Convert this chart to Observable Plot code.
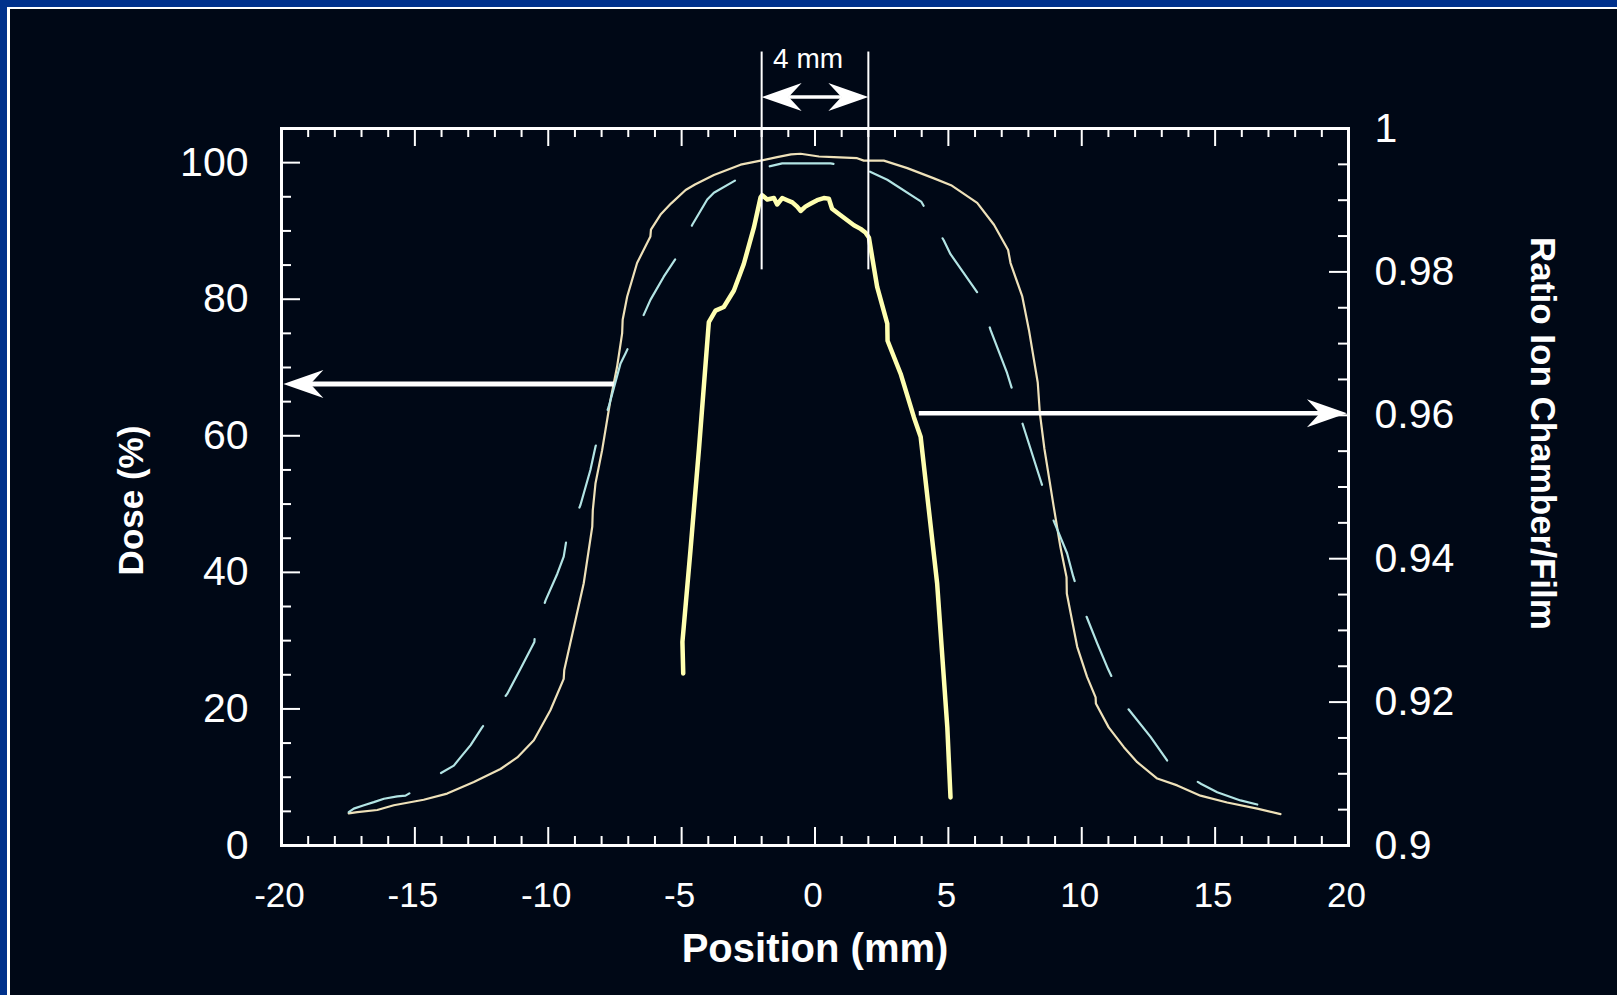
<!DOCTYPE html>
<html>
<head>
<meta charset="utf-8">
<script src="https://cdn.jsdelivr.net/npm/d3@7"></script>
<script src="https://cdn.jsdelivr.net/npm/@observablehq/plot@0.6"></script>
<style>
  html, body { margin: 0; padding: 0; background: #000816; }
  #wrap { position: relative; width: 1617px; height: 995px; overflow: hidden; background: #000816; }
  #border { position: absolute; left: 0; top: 0; width: 1617px; height: 995px; box-sizing: border-box;
            border-left: 7px solid #00318c; border-top: 7px solid #00318c; pointer-events: none; }
  #border2 { position: absolute; left: 7px; top: 7px; width: 1610px; height: 988px; box-sizing: border-box;
             border-left: 3px solid #ffffff; border-top: 2px solid #ffffff; pointer-events: none; }
</style>
</head>
<body>
<div id="wrap"><div id="chart"></div><div id="border"></div><div id="border2"></div></div>
<script>
// ---- Film dose profile (%), position in mm ----
const filmPos  = [-17.48,-17.16,-16.41,-15.79,-14.67,-13.79,-12.79,-11.79,-11.16,-10.54,-9.92,-9.42,-9.40,-8.98,-8.67,-8.35,-8.33,-8.23,-7.98,-7.67,-7.42,-7.23,-7.21,-7.04,-6.67,-6.17,-6.15,-5.79,-5.40,-4.85,-4.50,-3.79,-2.79,-2.04,-1.42,-0.90,-0.54,0.15,0.71,1.58,1.83,2.58,3.46,4.46,5.10,6.08,6.71,7.24,7.33,7.77,8.02,8.35,8.43,8.60,8.95,9.20,9.43,9.44,9.83,10.20,10.52,10.53,11.01,11.58,12.08,12.83,13.58,14.45,15.45,16.58,17.45];
const filmDose = [4.7,4.9,5.2,5.9,6.7,7.6,9.3,11.2,12.9,15.4,19.8,24.4,25.7,33.0,38.4,46.7,49.1,53.0,57.9,65.2,70.1,75.0,77.0,80.4,85.3,89.2,90.2,92.4,94.0,96.0,96.8,98.2,99.7,100.3,100.8,101.2,101.3,100.9,100.8,100.65,100.3,100.3,99.2,97.7,96.7,94.1,90.9,87.2,85.3,80.4,75.5,67.8,63.3,58.1,49.6,43.7,39.3,36.9,29.1,24.7,21.7,20.8,17.3,14.4,12.2,9.8,8.8,7.3,6.3,5.4,4.6];

// ---- Ion chamber dose profile (%), dashed ----
const chamberPos  = [-17.48,-17.29,-16.91,-16.54,-16.16,-15.66,-15.35,-14.70,-14.16,-13.54,-13.29,-12.91,-12.48,-11.54,-11.04,-10.52,-10.50,-10.10,-9.66,-9.42,-9.32,-8.79,-8.42,-8.23,-7.73,-7.29,-7.10,-6.48,-6.17,-5.67,-5.23,-4.60,-4.04,-3.79,-2.94,-1.67,-1.23,0.58,1.83,2.71,3.98,4.83,5.08,6.17,6.58,7.20,7.39,7.77,8.48,8.89,9.45,9.68,10.10,10.58,10.99,11.64,12.58,13.28,14.48,15.08,15.95,16.58];
const chamberDose = [4.9,5.4,5.9,6.35,6.85,7.2,7.3,8.8,10.3,11.7,12.9,14.7,17.3,22.2,25.9,29.8,31.0,35.9,39.8,42.3,44.7,49.9,55.0,58.4,64.3,70.6,72.1,77.2,79.9,83.3,85.9,90.9,94.6,95.6,97.5,99.5,99.9,99.9,99.1,97.5,94.3,88.6,86.6,80.5,75.5,69.2,66.8,61.9,53.2,48.1,42.8,39.4,34.3,29.6,25.8,20.5,15.9,12.0,9.0,7.8,6.6,6.0];
const chamberDashCount = 17;     // number of visible dashes along the profile
const chamberDashRatio = 0.63;   // dash share of each dash+gap period

// ---- Ratio ion chamber / film (right axis) ----
const ratioPos   = [-4.94,-4.97,-4.67,-4.35,-3.98,-3.73,-3.42,-3.04,-2.67,-2.29,-2.04,-1.98,-1.79,-1.54,-1.42,-1.23,-1.04,-0.85,-0.67,-0.54,-0.36,-0.17,0.08,0.33,0.52,0.64,0.96,1.21,1.46,1.71,1.89,2.02,2.33,2.71,2.72,3.21,3.71,3.96,4.58,4.96,5.08];
const ratioValue = [0.9240,0.9284,0.9411,0.9553,0.9730,0.9746,0.9751,0.9774,0.9811,0.9862,0.9904,0.9907,0.9901,0.9903,0.9894,0.9903,0.9900,0.9897,0.9891,0.9885,0.9891,0.9895,0.9900,0.9903,0.9902,0.9888,0.9879,0.9872,0.9865,0.9860,0.9855,0.9848,0.9779,0.9728,0.9704,0.9658,0.9597,0.9570,0.9365,0.9165,0.9067];

// ---- Axes / ticks ----
const xTicks      = [-20,-15,-10,-5,0,5,10,15,20];
const xMinorTicks = d3.range(-20, 21, 1);
const doseTicks   = [0,20,40,60,80,100];
const doseMinor   = d3.range(0, 106, 5);
const ratioTicks  = [0.9,0.92,0.94,0.96,0.98,1];
const ratioMinor  = d3.range(0, 21).map(i => 0.9 + i * 0.005);

// ---- Annotations ----
const bracketX = [-2, 2];           // the 4 mm window
const bracketY = [84.3, 116.2];      // dose units (extends above frame)
const bracketArrowY = 109.6;
const bracketLabel = "4 mm";
const leftArrow  = {from: -7.54, to: -19.93, dose: 67.6};
const rightArrow = {from: 3.89, to: 19.94, ratio: 0.9603};

const yR = r => (r - 0.9) / 0.1 * 105;  // ratio axis mapped onto dose scale

const film    = filmPos.map((x, i) => ({x, y: filmDose[i]}));
const chamber = chamberPos.map((x, i) => ({x, y: chamberDose[i]}));
const ratio   = ratioPos.map((x, i) => ({x, y: yR(ratioValue[i])}));

const W = 1617, H = 995, mT = 128, mR = 269, mB = 150, mL = 281;
const pW = W - mL - mR, pH = H - mT - mB;

const headRight = {draw(ctx) { ctx.moveTo(0,0); ctx.lineTo(-40,-14); ctx.lineTo(-27,0); ctx.lineTo(-40,14); ctx.closePath(); }};
const headLeft  = {draw(ctx) { ctx.moveTo(0,0); ctx.lineTo(40,-14); ctx.lineTo(27,0); ctx.lineTo(40,14); ctx.closePath(); }};

const white = "#ffffff";
const chamberColor = "#b2e4e4";
const minorX = xMinorTicks.filter(d => d % 5 !== 0);
const minorD = doseMinor.filter(d => d % 20 !== 0);
const minorR = ratioMinor.filter((d, i) => i % 4 !== 0);

const chart = Plot.plot({
  width: W, height: H,
  marginTop: mT, marginRight: mR, marginBottom: mB, marginLeft: mL,
  style: {background: "#000816", color: white, fontFamily: "'Liberation Sans', Arial, sans-serif", overflow: "visible"},
  x: {domain: [-20, 20]},
  y: {domain: [0, 105]},
  marks: [
    // inward ticks
    Plot.tickX(minorX, {x: d => d, stroke: white, strokeWidth: 2, insetBottom: pH - 9}),
    Plot.tickX(xTicks, {x: d => d, stroke: white, strokeWidth: 2, insetBottom: pH - 18}),
    Plot.tickX(minorX, {x: d => d, stroke: white, strokeWidth: 2, insetTop: pH - 9}),
    Plot.tickX(xTicks, {x: d => d, stroke: white, strokeWidth: 2, insetTop: pH - 18}),
    Plot.tickY(minorD, {y: d => d, stroke: white, strokeWidth: 2, insetRight: pW - 10}),
    Plot.tickY(doseTicks, {y: d => d, stroke: white, strokeWidth: 2, insetRight: pW - 19}),
    Plot.tickY(minorR.map(yR), {y: d => d, stroke: white, strokeWidth: 2, insetLeft: pW - 10}),
    Plot.tickY(ratioTicks.map(yR), {y: d => d, stroke: white, strokeWidth: 2, insetLeft: pW - 19}),
    Plot.frame({stroke: white, strokeWidth: 3}),
    // tick labels
    Plot.axisX(xTicks, {anchor: "bottom", tickSize: 0, tickPadding: 37, dx: -2, fontSize: 35, label: null, tickFormat: d => String(d)}),
    Plot.axisY(doseTicks, {anchor: "left", tickSize: 0, tickPadding: 33, fontSize: 41, label: null, tickFormat: d => String(d)}),
    Plot.axisY(ratioTicks.map(yR), {anchor: "right", tickSize: 0, tickPadding: 26, fontSize: 41, label: null,
      tickFormat: d => String(+(0.9 + d / 105 * 0.1).toFixed(3))}),
    // curves
    Plot.line(film, {x: "x", y: "y", stroke: "#eee1b9", strokeWidth: 2.2}),
    Plot.line(chamber, {x: "x", y: "y", stroke: chamberColor, strokeWidth: 2.2, strokeDasharray: "63,37"}),
    Plot.line(ratio, {x: "x", y: "y", stroke: "#ffffb0", strokeWidth: 4.5, strokeLinecap: "round", strokeLinejoin: "round"}),
    // 4 mm window
    Plot.ruleX(bracketX, {x: d => d, y1: bracketY[0], y2: bracketY[1], stroke: white, strokeWidth: 2}),
    Plot.link([{x1: bracketX[0] + 1.0, x2: bracketX[1] - 1.0, y: bracketArrowY}], {x1: "x1", x2: "x2", y1: "y", y2: "y", stroke: white, strokeWidth: 3.5}),
    Plot.dot([{x: bracketX[0], y: bracketArrowY}], {x: "x", y: "y", symbol: headLeft, fill: white, stroke: null}),
    Plot.dot([{x: bracketX[1], y: bracketArrowY}], {x: "x", y: "y", symbol: headRight, fill: white, stroke: null}),
    Plot.text([bracketLabel], {x: -0.26, y: 115.2, text: d => d, fontSize: 28, fill: white, textAnchor: "middle", lineAnchor: "middle"}),
    // pointer arrows
    Plot.link([leftArrow], {x1: "from", x2: d => d.to + 0.9, y1: "dose", y2: "dose", stroke: white, strokeWidth: 5}),
    Plot.dot([leftArrow], {x: "to", y: "dose", symbol: headLeft, fill: white, stroke: null}),
    Plot.link([rightArrow], {x1: "from", x2: d => d.to - 0.9, y1: d => yR(d.ratio), y2: d => yR(d.ratio), stroke: white, strokeWidth: 4.5}),
    Plot.dot([rightArrow], {x: "to", y: d => yR(d.ratio), symbol: headRight, fill: white, stroke: null}),
    // axis titles
    Plot.text(["Position (mm)"], {frameAnchor: "bottom", dy: 104, text: d => d, fontSize: 40, fontWeight: "bold", fill: white, textAnchor: "middle", lineAnchor: "middle"}),
    Plot.text(["Dose (%)"], {frameAnchor: "left", dx: -150, dy: 13.5, rotate: -90, text: d => d, fontSize: 35, fontWeight: "bold", fill: white, textAnchor: "middle", lineAnchor: "middle"}),
    Plot.text(["Ratio Ion Chamber/Film"], {frameAnchor: "right", dx: 194, dy: -53.5, rotate: 90, text: d => d, fontSize: 35, fontWeight: "bold", fill: white, textAnchor: "middle", lineAnchor: "middle"})
  ]
});
document.getElementById("chart").appendChild(chart);

// Fit the dash pattern so the dashes start and end with the drawn profile
const dashedPath = chart.querySelector(`g[stroke="${chamberColor}"] path`);
if (dashedPath && dashedPath.getTotalLength) {
  const L = dashedPath.getTotalLength();
  const period = L / (chamberDashCount - 1 + chamberDashRatio);
  const dash = period * chamberDashRatio, gap = period - dash;
  dashedPath.setAttribute("stroke-dasharray", `${dash.toFixed(2)},${gap.toFixed(2)}`);
  dashedPath.parentNode.setAttribute("stroke-dasharray", `${dash.toFixed(2)},${gap.toFixed(2)}`);
}
</script>
</body>
</html>
